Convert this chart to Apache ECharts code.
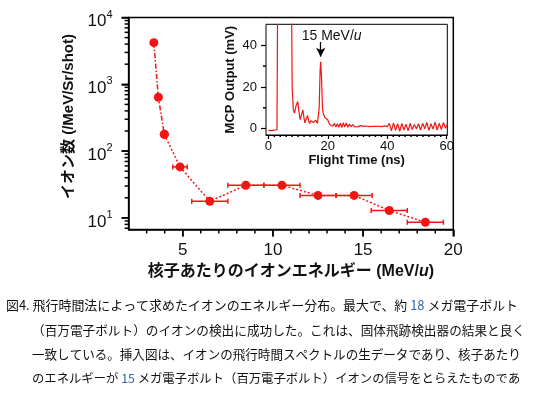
<!DOCTYPE html>
<html>
<head>
<meta charset="utf-8">
<script src="https://cdn.jsdelivr.net/npm/echarts@6/dist/echarts.min.js"></script>
<style>
  html, body { margin: 0; padding: 0; background: #fff; }
  #chart { width: 535px; height: 397px; }
</style>
</head>
<body>
<div id="chart"></div>
<script>
// main plot: ion number vs energy per nucleon
var energy = [3.4, 3.65, 3.98, 4.85, 6.5, 8.5, 10.5, 12.5, 14.5, 16.45, 18.45];
var ionCount = [4200, 640, 178, 58, 17.7, 30.8, 30.8, 21.7, 21.7, 12.9, 8.6];
var energyErr = [0.05, 0.08, 0.15, 0.4, 1.0, 1.0, 1.0, 1.0, 1.0, 1.0, 1.0];

// tick labels
var xMajor = [5, 10, 15, 20];
var xMinor = [3, 4, 6, 7, 8, 9, 11, 12, 13, 14, 16, 17, 18, 19];
var yMajor = [10, 100, 1000, 10000];
var yMinor = [7, 8, 9, 20, 30, 40, 50, 60, 70, 80, 90, 200, 300, 400, 500, 600, 700, 800, 900,
  2000, 3000, 4000, 5000, 6000, 7000, 8000, 9000];

// inset: raw time-of-flight trace
var tofTime = [0, 1, 2, 2.9, 3.1, 3.5, 5, 7, 7.8, 8.0, 8.4, 8.8, 9.3, 9.9, 10.3, 10.7, 11.1, 11.6, 12, 12.3,
  12.8, 13.2, 13.6, 13.9, 14.3, 14.7, 15.1, 15.4, 16, 16.5, 16.9, 17.1, 17.4, 17.6, 17.9, 18.2, 18.5, 19.1, 19.9, 20.6,
  21.2, 21.7, 22.2, 22.7, 23.2, 23.7, 24.2, 24.7, 25.2, 25.7, 26.2, 26.7, 27.2, 27.8, 28.4, 29, 29.6, 30.2, 31, 32,
  33, 34, 35, 36, 37, 38, 39, 40, 40.7, 41.4, 42.1, 42.8, 43.5, 44.2, 44.9, 45.6, 46.3, 47, 47.7, 48.4,
  49.1, 49.8, 50.5, 51.2, 51.9, 52.6, 53.3, 54, 54.7, 55.4, 56.1, 56.8, 57.5, 58.2, 58.9, 59.6, 60.2];
var tofSignal = [-0.8, -0.9, -0.7, -0.5, 60, 200, 300, 200, 60, 20, 9, 7.5, 11, 13, 8, 4.4, 6.5, 9, 5, 2.8,
  5, 6.3, 3.5, 2.5, 3.8, 4.7, 3, 2.5, 4.1, 2.5, 2.0, 10, 28, 32, 24, 10, 7, 5.3, 4.4, 2.0,
  2.8, 1.2, 2.6, 0.8, 2.4, 0.7, 2.7, 0.6, 2.9, 0.8, 2.8, 0.7, 2.2, 1.0, 2.0, 0.9, 1.8, 1.0, 1.5, 1.1,
  1.3, 1.0, 1.2, 1.1, 1.3, 1.0, 1.4, 1.0, 2.6, -1.0, 2.8, -0.8, 2.4, -1.2, 2.6, -0.6, 2.2, -1.0, 2.6, -0.4,
  2.0, 0.0, 2.4, -0.6, 2.6, 0.0, 3.0, -0.8, 2.4, -0.2, 3.2, -0.6, 2.6, -0.4, 3.0, 0.2, 2.0];
var insetXLabels = [0, 20, 40, 60];
var insetXMinor = [2, 4, 6, 8, 10, 12, 14, 16, 18, 22, 24, 26, 28, 30, 32, 34, 36, 38, 42, 44, 46, 48, 50, 52, 54, 56, 58];
var insetYLabels = [0, 20, 40];
var insetYMinor = [10, 30];
var peakTime = 17.6;

var caption = [
  '図4. 飛行時間法によって求めたイオンのエネルギー分布。最大で、約 {n|18} メガ電子ボルト',
  '（百万電子ボルト）のイオンの検出に成功した。これは、固体飛跡検出器の結果と良く',
  '一致している。挿入図は、イオンの飛行時間スペクトルの生データであり、核子あたり',
  'のエネルギーが {n|15} メガ電子ボルト（百万電子ボルト）イオンの信号をとらえたものであ'
];
var captionSize = [12.95, 12.65, 12.55, 12.35];

var red = '#f51414';
var latin = '"Liberation Sans", Arial, "Noto Sans CJK JP", sans-serif';
var cjk = '"Noto Sans CJK JP", sans-serif';

// axis ranges
var mainX = [2, 20], mainY = [6.7, 10000];
var insetX = [-0.8, 60.2], insetY = [-3, 50];

var mainPts = energy.map(function(e, i) { return [e, ionCount[i]]; });
var errData = energy.map(function(e, i) { return [e - energyErr[i], e + energyErr[i], ionCount[i]]; });
var tofData = tofTime.map(function(t, i) { return [t, tofSignal[i]]; });

var chart = echarts.init(document.getElementById('chart'), null, { renderer: 'canvas' });

// short ticks drawn through the axis scale (outward from the axis line)
function tickSeries(values, axisDim, fixed, len, gridIdx) {
  var data = values.map(function(v) { return axisDim === 'x' ? [v, fixed] : [fixed, v]; });
  return {
    type: 'custom', xAxisIndex: gridIdx, yAxisIndex: gridIdx,
    data: data, clip: false, silent: true, z: 7,
    renderItem: function(params, api) {
      var p = api.coord([api.value(0), api.value(1)]);
      var shape = axisDim === 'x'
        ? { x1: p[0], y1: p[1], x2: p[0], y2: p[1] + len }
        : { x1: p[0] - len, y1: p[1], x2: p[0], y2: p[1] };
      return { type: 'line', shape: shape, style: { stroke: '#000', lineWidth: 1.5 } };
    }
  };
}

var captionGraphics = caption.map(function(line, i) {
  var f = captionSize[i] + 'px ' + cjk;
  return {
    type: 'text',
    id: 'cap' + i,
    left: i === 0 ? 6 : 32,
    top: 299 + i * 24.5,
    style: {
      text: line,
      font: f,
      fill: '#111',
      rich: { n: { fill: '#2f63b8', font: f } }
    }
  };
});

var mainErr = {
  type: 'custom', xAxisIndex: 0, yAxisIndex: 0,
  encode: { x: [0, 1], y: 2 },
  data: errData,
  z: 2,
  renderItem: function(params, api) {
    var p1 = api.coord([api.value(0), api.value(2)]);
    var p2 = api.coord([api.value(1), api.value(2)]);
    var h = 2.5;
    var st = { stroke: red, lineWidth: 1.5 };
    return {
      type: 'group',
      children: [
        { type: 'line', shape: { x1: p1[0], y1: p1[1], x2: p2[0], y2: p2[1] }, style: st },
        { type: 'line', shape: { x1: p1[0], y1: p1[1] - h, x2: p1[0], y2: p1[1] + h }, style: st },
        { type: 'line', shape: { x1: p2[0], y1: p2[1] - h, x2: p2[0], y2: p2[1] + h }, style: st }
      ]
    };
  }
};

chart.setOption({
  animation: false,
  backgroundColor: '#fff',
  grid: [
    { left: 128.6, right: 81.7, top: 17.5, bottom: 167.5, show: true, borderColor: '#000', borderWidth: 1.5, backgroundColor: 'transparent' },
    { left: 266, right: 87.7, top: 24.3, bottom: 262, show: true, borderColor: '#000', borderWidth: 1, backgroundColor: '#fff', z: 1 }
  ],
  xAxis: [
    {
      type: 'value', gridIndex: 0, min: mainX[0], max: mainX[1], position: 'bottom',
      axisLine: { onZero: false, lineStyle: { color: '#000', width: 1.5 } },
      axisTick: { show: true, customValues: xMajor, length: 7, lineStyle: { color: '#000', width: 1.5 } },
      axisLabel: { customValues: xMajor, margin: 12, fontSize: 17, fontFamily: latin, color: '#111' },
      splitLine: { show: false },
      name: '核子あたりのイオンエネルギー (MeV/{i|u})',
      nameLocation: 'middle', nameGap: 33,
      nameTextStyle: {
        fontSize: 16, fontWeight: 'bold', fontFamily: latin, color: '#111',
        rich: { i: { fontSize: 16, fontWeight: 'bold', fontStyle: 'italic', fontFamily: latin, color: '#111' } }
      }
    },
    {
      type: 'value', gridIndex: 1, min: insetX[0], max: insetX[1], position: 'bottom',
      axisLine: { onZero: false, lineStyle: { color: '#000', width: 1 } },
      axisTick: { show: true, customValues: insetXLabels, length: 4, lineStyle: { color: '#000', width: 1.2 } },
      axisLabel: { customValues: insetXLabels, margin: 5, fontSize: 13, fontFamily: latin, color: '#111' },
      splitLine: { show: false },
      name: 'Flight Time (ns)', nameLocation: 'middle', nameGap: 18,
      nameTextStyle: { fontSize: 13, fontWeight: 'bold', fontFamily: latin, color: '#111' }
    }
  ],
  yAxis: [
    {
      type: 'log', logBase: 10, gridIndex: 0, min: mainY[0], max: mainY[1], position: 'left',
      axisLine: { show: true, onZero: false, lineStyle: { color: '#000', width: 1.5 } },
      axisTick: { show: true, customValues: yMajor, length: 7, lineStyle: { color: '#000', width: 1.5 } },
      axisLabel: {
        customValues: yMajor, margin: 16, fontFamily: latin, color: '#111',
        formatter: function(v) { return '{b|10}{s|' + Math.round(Math.log10(v)) + '}'; },
        rich: {
          b: { fontSize: 17, lineHeight: 17, padding: [8, 0, 0, 0], fontFamily: latin, color: '#111' },
          s: { fontSize: 11, lineHeight: 11, verticalAlign: 'top', fontFamily: latin, color: '#111' }
        }
      },
      splitLine: { show: false },
      name: 'イオン数 (/MeV/Sr/shot)', nameLocation: 'middle', nameGap: 47,
      nameTextStyle: { fontSize: 15, fontWeight: 'bold', fontFamily: latin, color: '#111', padding: [0, 0, 0, 14] }
    },
    {
      type: 'value', gridIndex: 1, min: insetY[0], max: insetY[1], position: 'left',
      axisLine: { onZero: false, lineStyle: { color: '#000', width: 1 } },
      axisTick: { show: true, customValues: insetYLabels, length: 5, lineStyle: { color: '#000', width: 1.2 } },
      axisLabel: { customValues: insetYLabels, margin: 9, fontSize: 13, fontFamily: latin, color: '#111' },
      splitLine: { show: false },
      name: 'MCP Output (mV)', nameLocation: 'middle', nameGap: 29,
      nameTextStyle: { fontSize: 13, fontWeight: 'bold', fontFamily: latin, color: '#111' }
    }
  ],
  series: [
    mainErr,
    {
      type: 'line', xAxisIndex: 0, yAxisIndex: 0, z: 3,
      data: mainPts.slice(0, 3),
      symbol: 'circle', symbolSize: 9,
      itemStyle: { color: red },
      lineStyle: { color: red, width: 1.5, type: [5, 2, 1.5, 2] }
    },
    {
      type: 'line', xAxisIndex: 0, yAxisIndex: 0, z: 3,
      data: mainPts.slice(2),
      symbol: 'circle', symbolSize: 9,
      itemStyle: { color: red },
      lineStyle: { color: red, width: 1.5, type: [2, 2] }
    },
    {
      type: 'line', xAxisIndex: 1, yAxisIndex: 1, z: 6,
      data: tofData,
      symbol: 'none', clip: true,
      lineStyle: { color: red, width: 1.2 },
      markLine: {
        silent: true,
        symbol: ['none', 'arrow'],
        symbolSize: [7, 9],
        label: { show: false },
        lineStyle: { color: '#000', width: 1.3, type: 'solid' },
        data: [[{ coord: [peakTime, 41.5] }, { coord: [peakTime, 34.5] }]]
      }
    },
    tickSeries(xMinor, 'x', mainY[0], 4, 0),
    tickSeries(yMinor, 'y', mainX[0], 4, 0),
    tickSeries(xMajor, 'x', mainY[0], 7, 0),
    tickSeries(yMajor, 'y', mainX[0], 7, 0),
    tickSeries(insetXMinor, 'x', insetY[0], 2, 1),
    tickSeries(insetYMinor, 'y', insetX[0], 3, 1)
  ],
  graphic: captionGraphics
});

var anchor = chart.convertToPixel({ gridIndex: 1 }, [peakTime, 41.5]);
chart.setOption({
  graphic: [{
    type: 'text', id: 'peakLabel', z: 10,
    left: anchor[0] - 19, top: anchor[1] - 13,
    style: {
      text: '15 MeV/{i|u}',
      font: '14px ' + latin,
      fill: '#111',
      rich: { i: { font: 'italic 14px ' + latin, fill: '#111' } }
    }
  }]
});

window.addEventListener('resize', function() { chart.resize(); });
</script>
</body>
</html>
